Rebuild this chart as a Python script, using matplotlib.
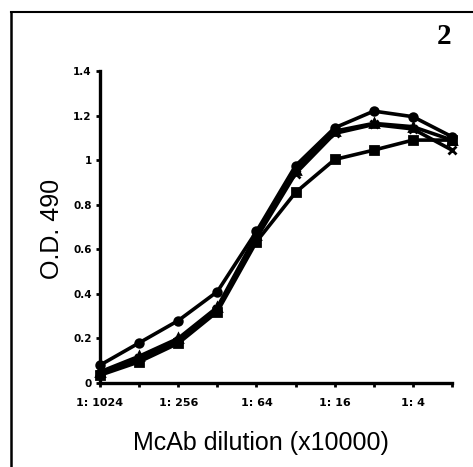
import matplotlib
matplotlib.use('Agg')
import matplotlib.pyplot as plt
from matplotlib.lines import Line2D

# dilution steps (1:1024 ... 1:2), only every second one gets a label
dilutions = ['1: 1024', '', '1: 256', '', '1: 64', '', '1: 16', '', '1: 4', '']
circle_vals = [0.08, 0.18, 0.28, 0.41, 0.68, 0.975, 1.145, 1.22, 1.195, 1.105]
triangle_vals = [0.05, 0.12, 0.20, 0.34, 0.665, 0.955, 1.13, 1.165, 1.15, 1.09]
square_vals = [0.035, 0.095, 0.178, 0.32, 0.634, 0.855, 1.003, 1.045, 1.09, 1.09]
cross_vals = [0.04, 0.11, 0.19, 0.33, 0.65, 0.94, 1.12, 1.16, 1.14, 1.045]
y_ticks = [0, 0.2, 0.4, 0.6, 0.8, 1.0, 1.2, 1.4]
y_labels = ['0', '0.2', '0.4', '0.6', '0.8', '1', '1.2', '1.4']

fig = plt.figure(figsize=(4.73, 4.67), dpi=100)
ax = fig.add_axes([100/473, 1 - 383/467, 352/473, 312/467])

x = list(range(len(dilutions)))
for vals, mk, ms in [(circle_vals, 'o', 5.5), (triangle_vals, '^', 6),
                     (square_vals, 's', 5.5), (cross_vals, 'x', 5.5)]:
    ax.plot(x, vals, color='black', lw=2.6, marker=mk, ms=ms, mew=2,
            clip_on=False, zorder=3)

ax.set_xlim(0, 9)
ax.set_ylim(0, 1.4)
ax.set_xticks(x)
ax.set_xticklabels(dilutions, fontsize=8, fontweight='bold')
ax.set_yticks(y_ticks)
ax.set_yticklabels(y_labels, fontsize=7.5, fontweight='bold')
ax.tick_params(length=3, width=2, direction='out')
ax.tick_params(axis='x', pad=8)
ax.tick_params(axis='y', pad=3)
for s in ['top', 'right']:
    ax.spines[s].set_visible(False)
for s in ['left', 'bottom']:
    ax.spines[s].set_linewidth(2.4)

fig.text(52/473, 1 - 229/467, 'O.D. 490', rotation=90, fontsize=18,
         ha='center', va='center', family='Liberation Sans')
fig.text(261/473, 1 - 443/467, 'McAb dilution (x10000)', fontsize=18,
         ha='center', va='center', family='Liberation Sans')
fig.text(444/473, 1 - 36/467, '2', fontsize=21, fontweight='bold',
         ha='center', va='center', family='Liberation Serif')

# outer frame of the panel (left and top edges)
fig.add_artist(Line2D([11/473, 11/473], [0, 1 - 12/467], color='black', lw=1.8))
fig.add_artist(Line2D([11/473, 1], [1 - 12/467, 1 - 12/467], color='black', lw=1.5))

fig.savefig('out.png', dpi=100)
